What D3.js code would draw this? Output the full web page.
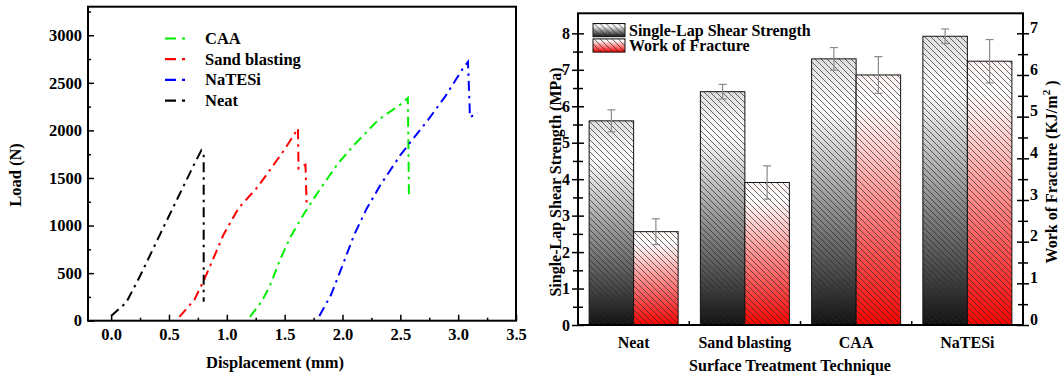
<!DOCTYPE html>
<html>
<head>
<meta charset="utf-8">
<script src="https://cdnjs.cloudflare.com/ajax/libs/d3/7.8.5/d3.min.js"></script>
<style>
body{margin:0;background:#fff;}
text{font-family:'Liberation Serif','Times New Roman',serif;font-weight:bold;fill:#000;}
</style>
</head>
<body>
<script>
// left panel: load vs displacement, [mm, N]
var curveNames=['CAA','Sand blasting','NaTESi','Neat'];
var caaCurve=[[1.20,40],[1.30,200],[1.37,360],[1.46,640],[1.55,880],[1.67,1130],[1.81,1390],[1.96,1650],[2.11,1860],[2.31,2110],[2.51,2280],[2.565,2340],[2.575,1300]];
var sandCurve=[[0.59,40],[0.72,220],[0.80,420],[0.90,700],[0.97,900],[1.10,1180],[1.27,1410],[1.37,1580],[1.50,1800],[1.615,2020],[1.62,1600],[1.68,1640],[1.69,1230]];
var natesiCurve=[[1.80,50],[1.90,270],[2.00,580],[2.10,900],[2.21,1180],[2.33,1430],[2.50,1740],[2.58,1865],[2.74,2110],[2.89,2360],[3.04,2650],[3.085,2720],[3.10,2220],[3.10,2140],[3.17,2180]];
var neatCurve=[[0.00,50],[0.13,190],[0.25,470],[0.42,900],[0.58,1300],[0.72,1650],[0.78,1790],[0.80,1760],[0.80,200]];
var dispTicks=[0,0.5,1,1.5,2,2.5,3,3.5];
var loadTicks=[0,500,1000,1500,2000,2500,3000];

// right panel: bars
var techniques=['Neat','Sand blasting','CAA','NaTESi'];
var shearStrength=[5.6,6.4,7.3,7.92];
var shearErr=[0.3,0.2,0.31,0.2];
var workFracture=[2.24,3.42,6.0,6.33];
var workErr=[0.31,0.4,0.44,0.52];
var strengthTicks=[0,1,2,3,4,5,6,7,8];
var workTicks=[0,1,2,3,4,5,6,7];

var curveColors=['#00ee00','#ff0000','#0000ff','#000000'];
var curves=[caaCurve,sandCurve,natesiCurve,neatCurve];

var svg=d3.select('body').append('svg')
.attr('width',1064)
.attr('height',375);

var defs=svg.append('defs');
var hatch=defs.append('pattern')
.attr('id','hatch')
.attr('patternUnits','userSpaceOnUse')
.attr('width',6)
.attr('height',6);
hatch.append('path')
.attr('d','M-1,-1L7,7M-1,5L1,7M5,-1L7,1')
.attr('stroke','#2a2a2a')
.attr('stroke-width',0.7);

var grayGrad=defs.append('linearGradient').attr('id','grayGrad')
.attr('x1',0).attr('y1',0).attr('x2',0).attr('y2',1);
grayGrad.append('stop').attr('offset','0').attr('stop-color','#dedede');
grayGrad.append('stop').attr('offset','0.18').attr('stop-color','#ffffff');
grayGrad.append('stop').attr('offset','1').attr('stop-color','#111111');
var redGrad=defs.append('linearGradient').attr('id','redGrad')
.attr('x1',0).attr('y1',0).attr('x2',0).attr('y2',1);
redGrad.append('stop').attr('offset','0').attr('stop-color','#fff4f4');
redGrad.append('stop').attr('offset','0.12').attr('stop-color','#ffffff');
redGrad.append('stop').attr('offset','1').attr('stop-color','#ff0000');

// ---------- left chart ----------
var xL=d3.scaleLinear().domain([-0.2,3.5]).range([88,516]);
var yL=d3.scaleLinear().domain([0,3300]).range([320.7,6.7]);

var left=svg.append('g');

function styleAxis(g,size){
    g.select('.domain').remove();
    g.selectAll('line').attr('stroke','#000').attr('stroke-width',1.5);
    g.selectAll('text').style('font-size',size+'px');
}

left.append('g')
.attr('transform','translate(0,320.7)')
.call(d3.axisBottom(xL).tickValues(dispTicks).tickFormat(d3.format('.1f')).tickSize(-6).tickPadding(8))
.call(styleAxis,16.5);
left.append('g')
.attr('transform','translate(0,320.7)')
.call(d3.axisBottom(xL).tickValues(d3.range(0.25,3.5,0.5)).tickFormat('').tickSize(-3))
.call(styleAxis,16.5);
left.append('g')
.attr('transform','translate(88,0)')
.call(d3.axisLeft(yL).tickValues(loadTicks).tickFormat(d3.format('d')).tickSize(-6).tickPadding(6))
.call(styleAxis,16.5);
left.append('g')
.attr('transform','translate(88,0)')
.call(d3.axisLeft(yL).tickValues(d3.range(250,3300,500)).tickFormat('').tickSize(-3))
.call(styleAxis,16.5);

var line=d3.line().x(d=>xL(d[0])).y(d=>yL(d[1]));
left.selectAll('path.curve')
.data(curves)
.enter()
.append('path')
.attr('class','curve')
.attr('d',line)
.attr('fill','none')
.attr('stroke',(d,i)=>curveColors[i])
.attr('stroke-width',2)
.attr('stroke-dasharray','10,5,2.5,5');

left.append('rect')
.attr('x',88).attr('y',6.7)
.attr('width',428).attr('height',314)
.attr('fill','none')
.attr('stroke','#000')
.attr('stroke-width',2);

var legL=left.selectAll('g.leg')
.data(curveNames)
.enter()
.append('g')
.attr('class','leg')
.attr('transform',(d,i)=>'translate(0,'+(38.5+i*20.7)+')');
legL.append('line')
.attr('x1',165).attr('x2',188)
.attr('stroke',(d,i)=>curveColors[i])
.attr('stroke-width',2.2)
.attr('stroke-dasharray','11,6,3,20');
legL.append('text')
.attr('x',205).attr('y',5.5)
.style('font-size','16.5px')
.text(d=>d);

left.append('text')
.attr('transform','translate(21,175) rotate(-90)')
.attr('text-anchor','middle')
.style('font-size','16.5px')
.text('Load (N)');
left.append('text')
.attr('x',275).attr('y',368)
.attr('text-anchor','middle')
.style('font-size','16.5px')
.text('Displacement (mm)');

// ---------- right chart ----------
var xR=d3.scaleBand().domain(techniques).range([578,1023]);
var yS=d3.scaleLinear().domain([0,8.55]).range([325,13.3]);
var yW=d3.scaleLinear().domain([0,7.48]).range([325,13.3]);
var bw=xR.bandwidth();

var right=svg.append('g');

var barData=techniques.map((t,i)=>({t:t,s:shearStrength[i],se:shearErr[i],w:workFracture[i],we:workErr[i]}));

function drawBar(g,x,y,w,h,grad){
    g.append('rect').attr('x',x).attr('y',y).attr('width',w).attr('height',h).attr('fill','url(#'+grad+')');
    g.append('rect').attr('x',x).attr('y',y).attr('width',w).attr('height',h).attr('fill','url(#hatch)')
    .attr('stroke','#111').attr('stroke-width',1);
}

barData.forEach(function(d){
    var g=right.append('g');
    drawBar(g,xR(d.t)+bw*0.1,yS(d.s),bw*0.4,yS(0)-yS(d.s),'grayGrad');
    drawBar(g,xR(d.t)+bw*0.5,yW(d.w),bw*0.4,yW(0)-yW(d.w),'redGrad');
});

function errBar(cx,scale,v,e){
    var g=right.append('g').attr('stroke','#8a8a8a').attr('stroke-width',1.2);
    g.append('line').attr('x1',cx).attr('x2',cx).attr('y1',scale(v-e)).attr('y2',scale(v+e));
    g.append('line').attr('x1',cx-4).attr('x2',cx+4).attr('y1',scale(v-e)).attr('y2',scale(v-e));
    g.append('line').attr('x1',cx-4).attr('x2',cx+4).attr('y1',scale(v+e)).attr('y2',scale(v+e));
}
barData.forEach(function(d){
    errBar(xR(d.t)+bw*0.3,yS,d.s,d.se);
    errBar(xR(d.t)+bw*0.7,yW,d.w,d.we);
});

// left axis (crossing ticks)
var axS=right.append('g')
.attr('transform','translate(578,0)')
.call(d3.axisLeft(yS).tickValues(strengthTicks).tickSize(6).tickPadding(2))
.call(styleAxis,16);
axS.selectAll('line').attr('x1',6);
var axSm=right.append('g')
.attr('transform','translate(578,0)')
.call(d3.axisLeft(yS).tickValues(d3.range(0.5,8.5,1)).tickFormat('').tickSize(5))
.call(styleAxis,16);
axSm.selectAll('line').attr('x1',5);

var axW=right.append('g')
.attr('transform','translate(1023,0)')
.call(d3.axisRight(yW).tickValues(workTicks).tickSize(6).tickPadding(1))
.call(styleAxis,16);
axW.selectAll('line').attr('x1',-6);
axW.selectAll('text').attr('dy','-0.05em');
var axWm=right.append('g')
.attr('transform','translate(1023,0)')
.call(d3.axisRight(yW).tickValues(d3.range(0.5,7.5,1)).tickFormat('').tickSize(5))
.call(styleAxis,16);
axWm.selectAll('line').attr('x1',-5);

right.append('g')
.attr('transform','translate(0,325)')
.call(d3.axisBottom(xR).tickSize(0).tickPadding(12))
.call(styleAxis,16);
right.selectAll('line.sep')
.data(techniques.slice(1))
.enter()
.append('line')
.attr('class','sep')
.attr('x1',d=>xR(d)).attr('x2',d=>xR(d))
.attr('y1',325).attr('y2',321)
.attr('stroke','#000').attr('stroke-width',1.5);

right.append('rect')
.attr('x',578).attr('y',13.3)
.attr('width',445).attr('height',311.7)
.attr('fill','none')
.attr('stroke','#000')
.attr('stroke-width',2);

// legend
var legR=[['Single-Lap Shear Strength','grayGrad'],['Work of Fracture','redGrad']];
legR.forEach(function(d,i){
    var g=right.append('g').attr('transform','translate(0,'+(23.5+i*15.4)+')');
    drawBar(g,593,0,32,13.2,d[1]);
    g.append('text').attr('x',629).attr('y',12).style('font-size','16px').text(d[0]);
});

right.append('text')
.attr('transform','translate(561,182) rotate(-90)')
.attr('text-anchor','middle')
.style('font-size','16px')
.text('Single-Lap Shear Strength (MPa)');

var wt=right.append('text')
.attr('transform','translate(1057,172) rotate(-90)')
.attr('text-anchor','middle')
.style('font-size','16px');
wt.append('tspan').text('Work of Fracture (KJ/m');
wt.append('tspan').attr('dy','-7').style('font-size','11px').text('2');
wt.append('tspan').attr('dy','7').text(' )');

right.append('text')
.attr('x',790).attr('y',370.5)
.attr('text-anchor','middle')
.style('font-size','16px')
.text('Surface Treatment Technique');
</script>
</body>
</html>
